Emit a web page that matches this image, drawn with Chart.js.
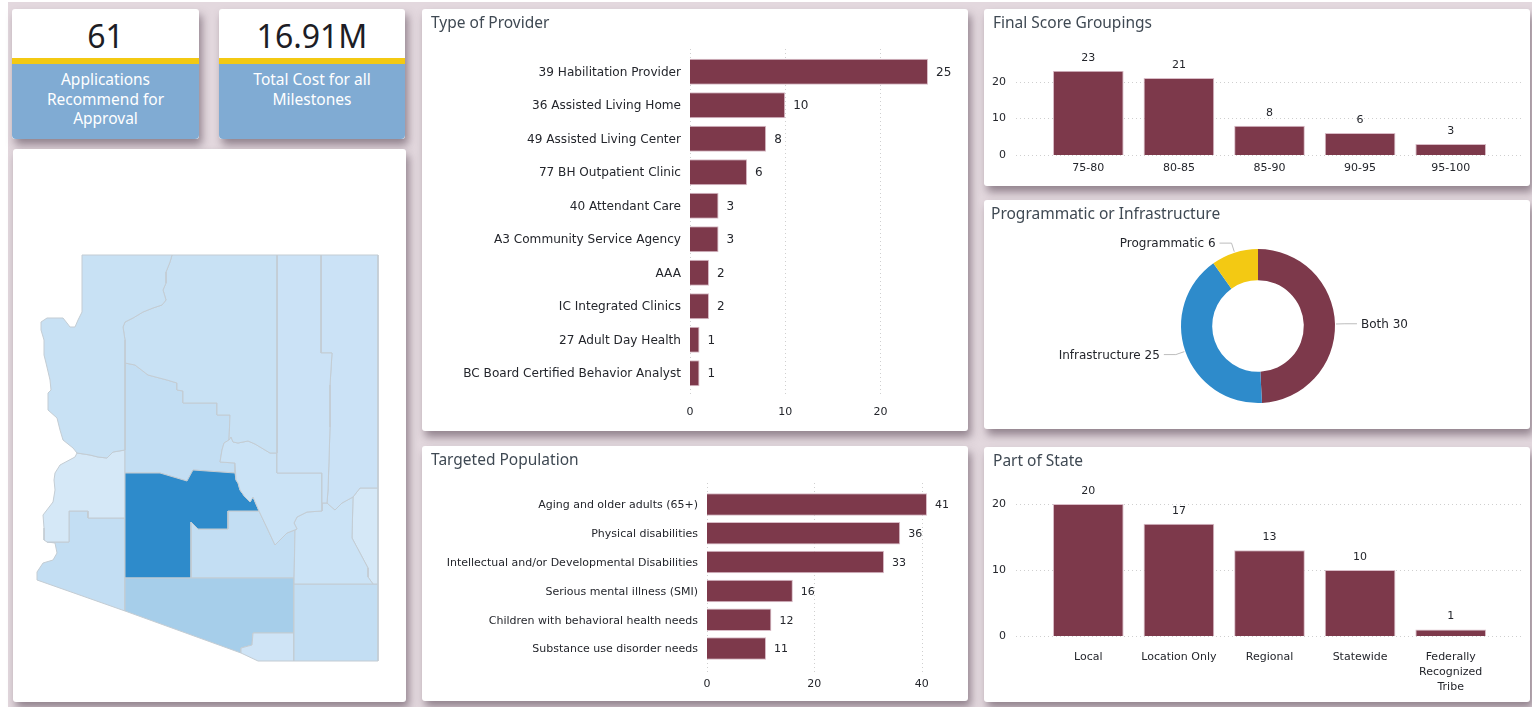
<!DOCTYPE html>
<html>
<head>
<meta charset="utf-8">
<title>Applications Recommended for Approval</title>
<script src="https://cdn.jsdelivr.net/npm/chart.js@4"></script>
<style>
    html, body { margin: 0; padding: 0; width: 1532px; height: 707px; overflow: hidden; background: #fff; }
    #page { position: absolute; left: 8px; top: 2px; width: 1524px; height: 705px; background: #e3d8de; }
    .panel { position: absolute; background: #fff; border-radius: 3px; box-shadow: 3px 6px 9px rgba(80, 62, 76, .55); }
    .panel canvas { position: absolute; left: 0; top: 0; }
    .title { position: absolute; left: 9px; top: 2px; font: 15.5px "Noto Sans", sans-serif; color: #3f4953; z-index: 2; }
    .kpi-value { position: absolute; left: 0; right: 0; top: 5px; text-align: center; font: 32px "Noto Sans", sans-serif; color: #1d1d25; }
    .kpi-bar { position: absolute; left: 0; right: 0; top: 49px; height: 6px; background: #f3c913; }
    .kpi-text { position: absolute; left: 0; right: 0; top: 55px; bottom: 0; background: #80abd3; color: #fff; text-align: center;
        border-radius: 0 0 4px 4px; font: 15.5px/19.7px "Noto Sans", sans-serif; padding-top: 6px; box-sizing: border-box; }
</style>
</head>
<body>
<div id="page"></div>

<div class="panel" style="left:12px;top:9px;width:187px;height:130px">
    <div class="kpi-value">61</div><div class="kpi-bar"></div>
    <div class="kpi-text">Applications<br>Recommend for<br>Approval</div>
</div>
<div class="panel" style="left:219px;top:9px;width:186px;height:130px">
    <div class="kpi-value">16.91M</div><div class="kpi-bar"></div>
    <div class="kpi-text">Total Cost for all<br>Milestones</div>
</div>

<div class="panel" style="left:13px;top:149px;width:393px;height:553px"><canvas id="mapChart" width="393" height="553"></canvas></div>
<div class="panel" style="left:422px;top:9px;width:546px;height:422px"><div class="title">Type of Provider</div><canvas id="providerChart" width="546" height="422"></canvas></div>
<div class="panel" style="left:422px;top:446px;width:546px;height:255px"><div class="title">Targeted Population</div><canvas id="populationChart" width="546" height="255"></canvas></div>
<div class="panel" style="left:984px;top:9px;width:546px;height:177px"><div class="title">Final Score Groupings</div><canvas id="scoreChart" width="546" height="177"></canvas></div>
<div class="panel" style="left:984px;top:200px;width:546px;height:229px"><div class="title" style="left:7px">Programmatic or Infrastructure</div><canvas id="typeChart" width="546" height="229"></canvas></div>
<div class="panel" style="left:984px;top:447px;width:546px;height:255px"><div class="title">Part of State</div><canvas id="stateChart" width="546" height="255"></canvas></div>

<script>
// chart data
const providerLabels = ["39 Habilitation Provider", "36 Assisted Living Home", "49 Assisted Living Center", "77 BH Outpatient Clinic", "40 Attendant Care", "A3 Community Service Agency", "AAA", "IC Integrated Clinics", "27 Adult Day Health", "BC Board Certified Behavior Analyst"];
const providerValues = [25, 10, 8, 6, 3, 3, 2, 2, 1, 1];

const populationLabels = ["Aging and older adults (65+)", "Physical disabilities", "Intellectual and/or Developmental Disabilities", "Serious mental illness (SMI)", "Children with behavioral health needs", "Substance use disorder needs"];
const populationValues = [41, 36, 33, 16, 12, 11];

const scoreLabels = ["75-80", "80-85", "85-90", "90-95", "95-100"];
const scoreValues = [23, 21, 8, 6, 3];

const typeLabels = ["Both", "Infrastructure", "Programmatic"];
const typeValues = [30, 25, 6];

const stateLabels = ["Local", "Location Only", "Regional", "Statewide", ["Federally", "Recognized", "Tribe"]];
const stateValues = [20, 17, 13, 10, 1];

// county outlines, in map units measured from the state's north-west corner
const mohave = [[45,0],[135,0],[133,7],[129,17],[129,28],[126,35],[129,45],[125,50],[116,53],[106,57],[96,63],[88,67],[86,72],[88,85],[88,195],[76,197],[70,203],[61,202],[53,200],[40,198],[36,193],[26,185],[23,175],[20,163],[11,155],[11,138],[14,135],[13,125],[9,108],[7,100],[7,85],[4,75],[4,67],[10,63],[18,63],[26,63],[30,68],[33,72],[38,72],[41,65],[45,57],[45,0]];
const coconino = [[135,0],[240,0],[240,198],[233,198],[223,192],[218,189],[211,186],[201,188],[196,187],[194,182],[192,185],[193,160],[180,160],[180,148],[146,148],[146,136],[140,135],[140,128],[130,125],[111,120],[98,110],[88,108],[88,85],[86,72],[88,67],[96,63],[106,57],[116,53],[125,50],[129,45],[126,35],[129,28],[129,17],[133,7],[135,0]];
const navajo = [[240,0],[284,0],[284,98],[295,98],[293,130],[293,172],[292,205],[291,235],[290,248],[285,248],[285,218],[240,218],[240,0]];
const apache = [[284,0],[341,0],[341,233],[323,233],[316,242],[305,248],[298,255],[290,248],[291,235],[292,205],[293,172],[293,130],[295,98],[284,98],[284,0]];
const gila = [[183,207],[185,195],[187,188],[192,185],[194,182],[196,187],[201,188],[211,186],[218,189],[223,192],[233,198],[240,198],[240,218],[285,218],[285,256],[270,257],[260,262],[257,268],[260,274],[250,278],[238,290],[231,275],[222,256],[216,242],[213,247],[208,242],[203,235],[201,228],[199,225],[198,208],[183,207]];
const graham = [[285,256],[285,248],[290,248],[298,255],[305,248],[316,242],[315,283],[323,298],[331,313],[331,322],[336,329],[257,329],[258,275],[260,274],[257,268],[260,262],[270,257],[285,256]];
const greenlee = [[316,242],[323,233],[341,233],[341,329],[336,329],[331,322],[331,313],[323,298],[315,283],[316,242]];
const cochise = [[257,329],[341,329],[341,406],[257,406],[257,329]];
const santaCruz = [[216,378],[257,378],[257,406],[221,406],[204,398],[204,393],[215,390],[216,378]];
const pima = [[88,323],[257,323],[257,378],[216,378],[215,390],[204,393],[204,398],[88,356],[88,323]];
const maricopa = [[88,218],[123,218],[150,226],[156,215],[198,218],[199,225],[201,228],[203,235],[208,242],[213,247],[216,242],[222,256],[191,256],[191,274],[161,274],[154,267],[154,323],[88,323],[88,218]];
const pinal = [[154,267],[161,274],[191,274],[191,256],[222,256],[231,275],[238,290],[250,278],[258,275],[257,323],[154,323],[154,267]];
const yavapai = [[88,108],[98,110],[111,120],[130,125],[140,128],[140,135],[146,136],[146,148],[180,148],[180,160],[193,160],[192,185],[187,188],[185,195],[183,207],[198,208],[198,218],[156,215],[150,226],[123,218],[88,218],[88,108]];
const laPaz = [[88,195],[76,197],[70,203],[61,202],[53,200],[40,198],[38,202],[23,210],[18,218],[17,225],[18,235],[16,247],[6,260],[7,273],[7,285],[10,287],[32,287],[32,256],[51,256],[51,263],[88,263],[88,195]];
const yuma = [[32,256],[51,256],[51,263],[88,263],[88,356],[0,325],[0,317],[6,308],[16,305],[20,298],[18,288],[10,287],[32,287],[32,256]];

const countyShapes = [mohave, coconino, navajo, apache, gila, graham, greenlee, cochise, santaCruz, pima, maricopa, pinal, yavapai, laPaz, yuma];
const countyColors = ["#c8e1f4", "#c8e1f4", "#cbe2f6", "#cbe2f6", "#cbe3f6", "#cbe3f6", "#d5e8f7", "#c3def3", "#cfe4f6", "#a6ceea", "#2e8bcb", "#c3def3", "#c3def3", "#d5e8f7", "#c3def3"];

const BAR_COLOR = "#7d394b";
const BAR_EDGE = "#d9bcc7";
const TEXT_COLOR = "#24262c";
const FONT = "'DejaVu Sans', sans-serif";

Chart.defaults.animation = false;
Chart.defaults.font.family = FONT;
Chart.defaults.color = TEXT_COLOR;

// dotted gridlines, they run past the plot area like in the dashboard
const dotGrid = {
    id: "dotGrid",
    beforeDatasetsDraw(chart, args, opts) {
        const ctx = chart.ctx;
        const scale = chart.scales[opts.axis];
        ctx.save();
        ctx.strokeStyle = "#cfcfcf";
        ctx.lineWidth = 1;
        ctx.setLineDash([1, 3]);
        scale.ticks.forEach(t => {
            const p = Math.round(scale.getPixelForValue(t.value)) + 0.5;
            ctx.beginPath();
            if (opts.axis === "x") {
                ctx.moveTo(p, opts.from);
                ctx.lineTo(p, opts.to);
            } else {
                ctx.moveTo(opts.from, p);
                ctx.lineTo(opts.to, p);
            }
            ctx.stroke();
        });
        ctx.restore();
    }
};

// number printed next to each bar
const barValues = {
    id: "barValues",
    afterDatasetsDraw(chart, args, opts) {
        const ctx = chart.ctx;
        const horizontal = chart.options.indexAxis === "y";
        const values = chart.data.datasets[0].data;
        ctx.save();
        ctx.font = opts.size + "px " + FONT;
        ctx.fillStyle = TEXT_COLOR;
        ctx.textBaseline = "middle";
        chart.getDatasetMeta(0).data.forEach((bar, i) => {
            if (horizontal) {
                ctx.textAlign = "left";
                ctx.fillText(values[i], bar.x + 8, bar.y + 1);
            } else {
                ctx.textAlign = "center";
                ctx.fillText(values[i], bar.x, bar.y - 13);
            }
        });
        ctx.restore();
    }
};

function barChart(id, labels, values, cfg) {
    const horizontal = cfg.horizontal;
    const valueAxis = {
        min: 0,
        max: cfg.max,
        grid: { display: false, drawTicks: false },
        border: { display: false },
        ticks: { stepSize: cfg.step, includeBounds: false, padding: cfg.valuePad, font: { size: 11 } },
        afterFit(scale) {
            if (horizontal) {
                scale.height = cfg.valueSize;
            } else {
                // tick padding would otherwise push the plot area in
                scale.width = cfg.valueSize;
                scale.paddingTop = 0;
                scale.paddingBottom = 0;
            }
        }
    };
    const categoryAxis = {
        grid: { display: false, drawTicks: false },
        border: { display: false },
        ticks: {
            autoSkip: false,
            maxRotation: 0,
            padding: cfg.labelPad,
            labelOffset: horizontal ? 1 : 0,
            font: { size: cfg.labelFont || 11, lineHeight: 1.36 }
        },
        afterFit(scale) {
            if (horizontal) {
                scale.width = cfg.labelSize;
                scale.paddingTop = 0;
                scale.paddingBottom = 0;
            } else {
                scale.height = cfg.labelSize;
            }
        }
    };
    return new Chart(document.getElementById(id), {
        type: "bar",
        data: {
            labels: labels,
            datasets: [{
                data: values,
                backgroundColor: BAR_COLOR,
                borderColor: BAR_EDGE,
                borderWidth: 1,
                barPercentage: 0.78,
                categoryPercentage: 1
            }]
        },
        options: {
            indexAxis: horizontal ? "y" : "x",
            responsive: false,
            layout: { padding: cfg.padding },
            scales: horizontal ? { x: valueAxis, y: categoryAxis } : { x: categoryAxis, y: valueAxis },
            plugins: {
                legend: { display: false },
                tooltip: { enabled: false },
                dotGrid: { axis: horizontal ? "x" : "y", from: cfg.gridFrom, to: cfg.gridTo },
                barValues: { size: cfg.valueFont || 11 }
            }
        },
        plugins: [dotGrid, barValues]
    });
}

barChart("providerChart", providerLabels, providerValues, {
    horizontal: true, max: 25, step: 10, valueSize: 41, labelSize: 268, labelFont: 12.1, valueFont: 12, valuePad: 16, labelPad: 9,
    padding: { left: 0, top: 46, right: 40, bottom: 0 }, gridFrom: 40, gridTo: 388
});
barChart("populationChart", populationLabels, populationValues, {
    horizontal: true, max: 41, step: 20, valueSize: 38, labelSize: 285, valuePad: 15, labelPad: 9,
    padding: { left: 0, top: 44, right: 41, bottom: 0 }, gridFrom: 37, gridTo: 226
});
barChart("scoreChart", scoreLabels, scoreValues, {
    horizontal: false, max: 23, step: 10, valueSize: 59, labelSize: 31, valuePad: 37, labelPad: 6,
    padding: { left: 0, top: 61.7, right: 34, bottom: 0 }, gridFrom: 32, gridTo: 540
});
barChart("stateChart", stateLabels, stateValues, {
    horizontal: false, max: 20, step: 10, valueSize: 59, labelSize: 66, valuePad: 37, labelPad: 14,
    padding: { left: 0, top: 57, right: 34, bottom: 0 }, gridFrom: 32, gridTo: 540
});

// callouts around the doughnut
const sliceCallouts = {
    id: "sliceCallouts",
    afterDatasetsDraw(chart) {
        const ctx = chart.ctx;
        const values = chart.data.datasets[0].data;
        ctx.save();
        ctx.font = "12px " + FONT;
        ctx.textBaseline = "middle";
        chart.getDatasetMeta(0).data.forEach((arc, i) => {
            const mid = (arc.startAngle + arc.endAngle) / 2;
            const r = arc.outerRadius;
            const elbowX = arc.x + Math.cos(mid) * (r + 10);
            const elbowY = arc.y + Math.sin(mid) * (r + 10);
            const right = Math.cos(mid) >= 0;
            const endX = elbowX + (right ? 12 : -12);
            ctx.strokeStyle = "#bdbdbd";
            ctx.lineWidth = 1;
            ctx.beginPath();
            ctx.moveTo(arc.x + Math.cos(mid) * (r + 1), arc.y + Math.sin(mid) * (r + 1));
            ctx.lineTo(elbowX, elbowY);
            ctx.lineTo(endX, elbowY);
            ctx.stroke();
            ctx.fillStyle = TEXT_COLOR;
            ctx.textAlign = right ? "left" : "right";
            ctx.fillText(chart.data.labels[i] + " " + values[i], endX + (right ? 4 : -4), elbowY + 1);
        });
        ctx.restore();
    }
};

new Chart(document.getElementById("typeChart"), {
    type: "doughnut",
    data: {
        labels: typeLabels,
        datasets: [{ data: typeValues, backgroundColor: [BAR_COLOR, "#2e8bcb", "#f3c913"], borderWidth: 0 }]
    },
    options: {
        responsive: false,
        cutout: "59.5%",
        layout: { padding: { left: 2, top: 49, bottom: 26 } },
        plugins: { legend: { display: false }, tooltip: { enabled: false } }
    },
    plugins: [sliceCallouts]
});

// county map: one closed line per county on hidden linear axes
new Chart(document.getElementById("mapChart"), {
    type: "scatter",
    data: {
        datasets: countyShapes.map((shape, i) => ({
            data: shape,
            showLine: true,
            fill: "shape",
            tension: 0,
            pointRadius: 0,
            backgroundColor: countyColors[i],
            borderColor: "#c3ccd3",
            borderWidth: 1
        }))
    },
    options: {
        responsive: false,
        scales: {
            x: { type: "linear", display: false, min: -24, max: 369 },
            y: { type: "linear", display: false, reverse: true, min: -106, max: 447 }
        },
        plugins: { legend: { display: false }, tooltip: { enabled: false } }
    }
});
</script>
</body>
</html>
